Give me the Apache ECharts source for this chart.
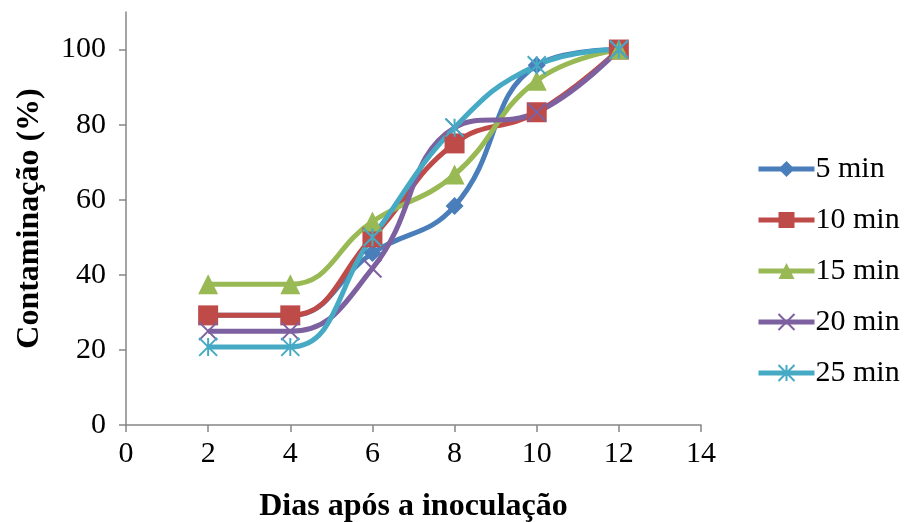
<!DOCTYPE html>
<html style="height: 100%">
<head>
  <meta charset="utf-8">
  <title>Contaminação</title>
  <script src="https://cdn.jsdelivr.net/npm/echarts@6/dist/echarts.min.js"></script>
</head>
<body style="margin:0;height:100%">
  <div id="main" style="width:911px;height:522px"></div>
  <script>
    var days = [2, 4, 6, 8, 10, 12];
    var seriesNames = ['5 min', '10 min', '15 min', '20 min', '25 min'];
    var min5  = [29.2, 29.2, 45.8, 58.3, 95.8, 100];
    var min10 = [29.2, 29.2, 50.0, 75.0, 83.3, 100];
    var min15 = [37.5, 37.5, 54.2, 66.7, 91.7, 100];
    var min20 = [25.0, 25.0, 41.7, 79.2, 83.3, 100];
    var min25 = [20.8, 20.8, 50.0, 79.2, 95.8, 100];

    var allValues = [min5, min10, min15, min20, min25];
    var colors = ['#4a7ebb', '#be4b48', '#98b954', '#7d60a0', '#46aac5'];
    var symbols = [
      'diamond',
      'rect',
      'triangle',
      'path://M0,0L10,10M10,0L0,10',
      'path://M0,0L10,10M10,0L0,10M5,0L5,10'
    ];
    var sizes = [18, 20, 20, 18, 18];

    var font = '"Liberation Serif", "Times New Roman", serif';
    var chart = echarts.init(document.getElementById('main'));

    var series = allValues.map(function (vals, i) {
      var stroked = i >= 3;
      return {
        name: seriesNames[i],
        type: 'line',
        smooth: 0.45,
        data: days.map(function (d, j) { return [d, vals[j]]; }),
        symbol: symbols[i],
        symbolSize: sizes[i],
        lineStyle: { width: 5, color: colors[i] },
        itemStyle: {
          color: stroked ? 'rgba(0,0,0,0)' : colors[i],
          borderColor: colors[i],
          borderWidth: stroked ? 2 : 0
        }
      };
    });

    chart.setOption({
      animation: false,
      color: colors,
      textStyle: { fontFamily: font },
      grid: { left: 126, right: 210, top: 12, bottom: 97, containLabel: false, outerBoundsMode: 'none' },
      xAxis: {
        type: 'value',
        min: 0, max: 14, interval: 2,
        name: 'Dias após a inoculação',
        nameLocation: 'middle',
        nameGap: 66,
        nameTextStyle: { fontSize: 32, fontWeight: 'bold', color: '#000', fontFamily: font },
        axisLine: { lineStyle: { color: '#868686', width: 1.5 } },
        axisTick: { length: 7, lineStyle: { color: '#868686', width: 1.5 } },
        axisLabel: { fontSize: 30, color: '#000', margin: 14, fontFamily: font },
        splitLine: { show: false }
      },
      yAxis: {
        type: 'value',
        min: 0, max: 110, interval: 20,
        name: 'Contaminação (%)',
        nameLocation: 'middle',
        nameGap: 80,
        nameTextStyle: { fontSize: 32, fontWeight: 'bold', color: '#000', fontFamily: font },
        axisLine: { show: true, lineStyle: { color: '#868686', width: 1.5 } },
        axisTick: { show: true, length: 7, lineStyle: { color: '#868686', width: 1.5 } },
        axisLabel: { fontSize: 30, color: '#000', margin: 20, showMaxLabel: false, fontFamily: font },
        splitLine: { show: false }
      },
      legend: {
        orient: 'vertical',
        left: 751,
        top: 149,
        itemWidth: 56,
        itemHeight: 20,
        itemGap: 21,
        lineStyle: { width: 5 },
        textStyle: { fontSize: 30, color: '#000', fontFamily: font, padding: [0, 0, 0, -4] },
        data: seriesNames
      },
      series: series
    });
  </script>
</body>
</html>
